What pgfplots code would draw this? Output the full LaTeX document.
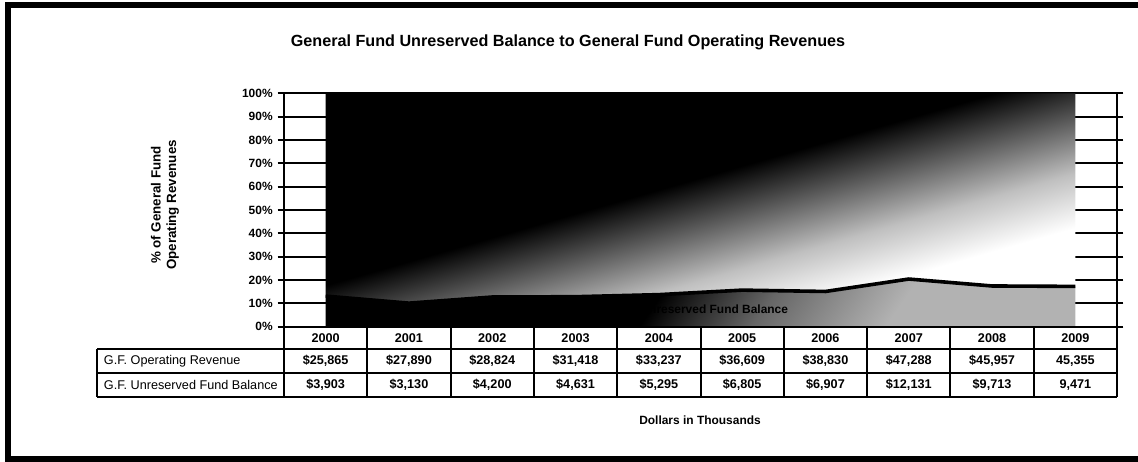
\documentclass[border=0pt]{standalone}
\usepackage{pgfplots}
\pgfplotsset{compat=1.18}
\usepackage{pgfplotstable}
\usepackage{fontspec}
\setmainfont{Liberation Sans}

% share of (revenue + balance), in percent
\pgfplotstableread{
idx year balpct revpct
0 2000 13.11 86.89
1 2001 10.09 89.91
2 2002 12.72 87.28
3 2003 12.85 87.15
4 2004 13.74 86.26
5 2005 15.67 84.33
6 2006 15.10 84.90
7 2007 20.42 79.58
8 2008 17.45 82.55
9 2009 17.27 82.73
}\datatable

\pgfdeclarehorizontalshading{revshade}{100bp}{color(0bp)=(black); color(47bp)=(black); color(54bp)=(black!65); color(62bp)=(black!25); color(70bp)=(white); color(100bp)=(white)}
\pgfdeclarehorizontalshading{balshade}{100bp}{color(0bp)=(black); color(46bp)=(black); color(56bp)=(black!60); color(68bp)=(black!30); color(100bp)=(black!30)}

\pgfplotsset{plotarea/.style={
    at={(71mm,-81.675mm)}, anchor=south west,
    scale only axis, width=208.25mm, height=58.35mm,
    xmin=-0.5, xmax=9.5, ymin=0, ymax=100}}

\begin{document}
\begin{tikzpicture}[x=0.25mm, y=-0.25mm]
  \begin{axis}[
      plotarea,
      xtick=\empty,
      ytick={0,10,...,100},
      yticklabel={\pgfmathprintnumber{\tick}\%},
      /pgf/number format/assume math mode=true,
      yticklabel style={font=\bfseries\fontsize{8.5}{10}\selectfont},
      tick align=outside, major tick length=1.6mm,
      ytick style={black, line width=0.5mm},
      ymajorgrids, grid style={black, line width=0.5mm},
      axis line style={black, line width=0.5mm},
      stack plots=y,
      clip=false,
    ]
    \addplot[draw=none, shade, shading=balshade, shading angle=-35]
      table[x=idx, y=balpct] {\datatable} \closedcycle;
    \addplot[draw=none, shade, shading=revshade, shading angle=-74]
      table[x=idx, y=revpct] {\datatable} \closedcycle;
  \end{axis}
  % top edge of the fund balance area (not stacked)
  \begin{axis}[plotarea, hide axis, clip=false]
    \addplot[black, line width=0.9mm] table[x=idx, y=balpct] {\datatable};
    \node[anchor=east, font=\bfseries\fontsize{8.5}{10}\selectfont]
      at (axis cs:5.61,7.5) {G.F. Unreserved Fund Balance};
  \end{axis}

  % title and axis captions
  \node[font=\bfseries\fontsize{11.5}{13}\selectfont] at (568,42)
    {General Fund Unreserved Balance to General Fund Operating Revenues};
  \node[rotate=90, align=center, font=\bfseries\fontsize{9.5}{11}\selectfont] at (165,205)
    {\% of General Fund\\Operating Revenues};
  \node[font=\bfseries\fontsize{8.5}{10}\selectfont] at (700,420) {Dollars in Thousands};

  % data table
  \begin{scope}[line width=0.5mm]
    \draw (284,326.7) -- (1117,326.7);
    \draw (97,349) -- (1117,349);
    \draw (97,373) -- (1117,373);
    \draw (97,397) -- (1117,397);
    \draw (97,349) -- (97,397);
    \foreach \k in {0,...,10}
      \draw (284+83.3*\k,326.7) -- (284+83.3*\k,397);
  \end{scope}
  \node[anchor=west, font=\fontsize{9}{10}\selectfont] at (99,361) {G.F. Operating Revenue};
  \node[anchor=west, font=\fontsize{9}{10}\selectfont] at (99,385) {G.F. Unreserved Fund Balance};
  \foreach \yr/\rv/\bl [count=\i from 0] in {
      2000/{\$25,865}/{\$3,903}, 2001/{\$27,890}/{\$3,130},
      2002/{\$28,824}/{\$4,200}, 2003/{\$31,418}/{\$4,631},
      2004/{\$33,237}/{\$5,295}, 2005/{\$36,609}/{\$6,805},
      2006/{\$38,830}/{\$6,907}, 2007/{\$47,288}/{\$12,131},
      2008/{\$45,957}/{\$9,713}, 2009/{45,355}/{9,471}} {
    \node[font=\bfseries\fontsize{9}{10}\selectfont] at (284+83.3*\i+41.65,338) {\yr};
    \node[font=\bfseries\fontsize{9}{10}\selectfont] at (284+83.3*\i+41.65,361) {\rv};
    \node[font=\bfseries\fontsize{9}{10}\selectfont] at (284+83.3*\i+41.65,385) {\bl};
  }

  % outer frame
  \draw[line width=1.3mm] (1145,5) -- (8,5) -- (8,459) -- (1145,459);
  \pgfresetboundingbox
  \useasboundingbox (0,0) rectangle (1138,462);
\end{tikzpicture}
\end{document}
